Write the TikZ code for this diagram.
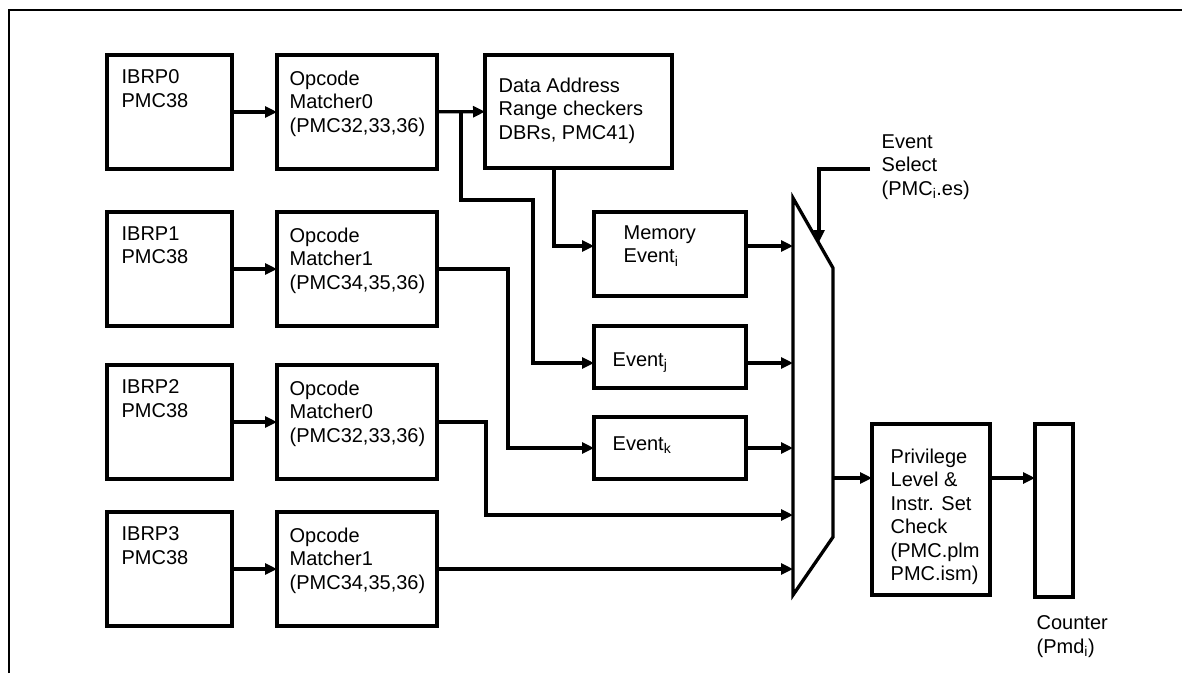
\documentclass[tikz,border=0pt]{standalone}
\usepackage{fontspec}
\setmainfont{Liberation Sans}
\usetikzlibrary{arrows.meta}
\begin{document}
\begin{tikzpicture}[x=1pt, y=-1pt, line width=3.3pt,
    >={Triangle[length=12pt,width=11pt]},
    blk/.style={draw, rectangle, inner sep=0pt, outer sep=0pt, anchor=north west},
    txt/.style={align=left, inner sep=0pt, anchor=north west, font=\fontsize{20}{23.5}\selectfont}]

    \useasboundingbox (0,0) rectangle (1182,673);

    % Frame
    \draw[line width=2.6pt] (9,673) |- (1182,10);

    % IBRP blocks and opcode matchers
    \foreach \i/\top/\m/\regs in {0/55/0/{32,33,36}, 1/212/1/{34,35,36}, 2/365/0/{32,33,36}, 3/512/1/{34,35,36}} {
        \node[blk, minimum width=125pt, minimum height=114pt] (IB\i) at (107,\top) {};
        \node[blk, minimum width=160pt, minimum height=114pt] (OM\i) at (277,\top) {};
        \node[txt] (IB\i-t) at ([xshift=13pt,yshift=-13pt]IB\i.north west) {IBRP\i\\PMC38};
        \node[txt] (OM\i-t) at ([xshift=11pt,yshift=-14pt]OM\i.north west) {Opcode\\Matcher\m\\(PMC\regs)};
        \draw[->] (IB\i) -- (OM\i);
    }

    % Event blocks
    \node[blk, minimum width=187pt, minimum height=113pt] (DA) at (485,55) {};
    \node[blk, minimum width=152pt, minimum height=84pt] (ME) at (594,212) {};
    \node[blk, minimum width=152pt, minimum height=62pt] (Ej) at (594,326) {};
    \node[blk, minimum width=152pt, minimum height=62pt] (Ek) at (594,417) {};
    \node[txt] (DA-t) at ([xshift=12pt,yshift=-21pt]DA.north west) {Data Address\\Range checkers\\DBRs, PMC41)};
    \node[txt] (ME-t) at ([xshift=28pt,yshift=-12pt]ME.north west) {Memory\\Event\textsubscript{i}};
    \node[txt] (Ej-t) at ([xshift=17pt,yshift=-25pt]Ej.north west) {Event\textsubscript{j}};
    \node[txt] (Ek-t) at ([xshift=17pt,yshift=-18pt]Ek.north west) {Event\textsubscript{k}};

    % Privilege check and counter
    \node[blk, minimum width=118pt, minimum height=171pt] (PR) at (872,424) {};
    \node[blk, minimum width=38pt, minimum height=173pt] (CT) at (1035,424) {};
    \node[txt] (PR-t) at ([xshift=17pt,yshift=-23pt]PR.north west) {Privilege\\Level \&\\Instr. Set\\Check\\(PMC.plm\\PMC.ism)};
    \node[txt] (CT-t) at ([yshift=-17pt]CT.south west) {Counter\\(Pmd\textsubscript{i})};

    % Multiplexer
    \coordinate (m1) at (793,198);
    \coordinate (m2) at (833,268);
    \coordinate (m3) at (833,537);
    \coordinate (m4) at (793,595);
    \draw[line join=miter] (m1) -- (m2) -- (m3) -- (m4) -- cycle;
    \node[txt] (ES-t) at (880,133) {Event\\Select\\(PMC\textsubscript{i}.es)};
    \coordinate (es) at (870,169);
    \draw[->] (es) -| (819,242);

    % Connections into the event blocks
    \draw[->] (OM0) -- (DA);
    \draw[->] (OM0.east -| 461,0) |- (533,200) |- ([yshift=-6pt]Ej.west);
    \draw[->] (DA.south -| 554,0) |- ([yshift=8pt]ME.west);
    \draw[->] (OM1.east) -- (OM1.east -| 508,0) |- (Ek.west);

    % Connections into the multiplexer
    \path ([yshift=8pt]ME.east) coordinate (meo);
    \path ([yshift=-6pt]Ej.east) coordinate (ejo);
    \draw[->] (meo) -- (m1 |- meo);
    \draw[->] (ejo) -- (m1 |- ejo);
    \draw[->] (Ek.east) -- (m1 |- Ek.east);
    \draw[->] (OM2.east) -- (OM2.east -| 486,0) |- (m1 |- 0,515);
    \draw[->] (OM3.east) -- (m1 |- OM3.east);

    % Output path
    \coordinate (mo) at (m2 |- 0,478);
    \draw[->] (mo) -- (PR.west |- mo);
    \draw[->] (PR.east |- mo) -- (CT.west |- mo);
\end{tikzpicture}
\end{document}
